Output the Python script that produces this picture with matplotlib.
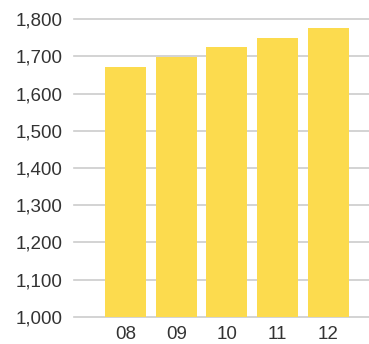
import matplotlib
matplotlib.use("Agg")
import matplotlib.pyplot as plt

categories = ["08", "09", "10", "11", "12"]
values = [1672, 1699, 1725, 1750, 1777]
yticks = [1000, 1100, 1200, 1300, 1400, 1500, 1600, 1700, 1800]
ytick_labels = ["1,000", "1,100", "1,200", "1,300", "1,400", "1,500", "1,600", "1,700", "1,800"]

plt.rcParams['font.family'] = ['Liberation Sans', 'DejaVu Sans']

fig = plt.figure(figsize=(3.69, 3.44), dpi=100)
ax = fig.add_axes([74/369, 27.3/344, 295/369, 297.4/344])

x = list(range(len(categories)))
ax.bar(x, values, width=0.81, color="#FCDB4E", zorder=3)
ax.set_ylim(1000, 1800)
ax.set_xlim(-1.015, 4.8)
ax.set_yticks(yticks)
ax.set_yticklabels(ytick_labels)
ax.set_xticks(x)
ax.set_xticklabels(categories)
ax.yaxis.grid(True, color="#cccccc", linewidth=1.2, zorder=0)
for gl in ax.get_ygridlines():
    gl.set_clip_on(False)
for s in ax.spines.values():
    s.set_visible(False)
ax.tick_params(axis='both', length=0, labelsize=13.5, colors="#333333")
ax.tick_params(axis='y', pad=8.5)
ax.tick_params(axis='x', pad=6.5)

fig.savefig("out.png", dpi=100)
